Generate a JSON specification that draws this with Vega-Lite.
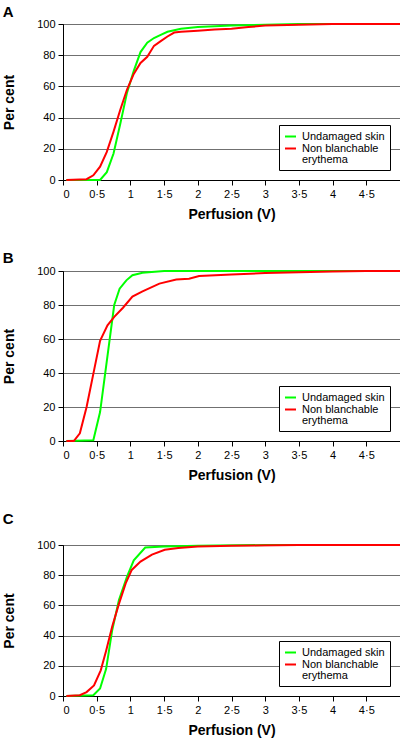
{
  "$schema": "https://vega.github.io/schema/vega-lite/v6.json",
  "padding": {"left": 2, "top": 4, "right": 0, "bottom": 0},
  "background": "white",
  "datasets": {
    "curves": [
      {"panel": "A", "series": "Undamaged skin", "x": 0.05, "y": 0},
      {"panel": "A", "series": "Undamaged skin", "x": 0.55, "y": 0},
      {"panel": "A", "series": "Undamaged skin", "x": 0.65, "y": 5},
      {"panel": "A", "series": "Undamaged skin", "x": 0.75, "y": 17},
      {"panel": "A", "series": "Undamaged skin", "x": 0.85, "y": 36},
      {"panel": "A", "series": "Undamaged skin", "x": 0.95, "y": 56},
      {"panel": "A", "series": "Undamaged skin", "x": 1.05, "y": 70},
      {"panel": "A", "series": "Undamaged skin", "x": 1.15, "y": 82},
      {"panel": "A", "series": "Undamaged skin", "x": 1.25, "y": 88},
      {"panel": "A", "series": "Undamaged skin", "x": 1.35, "y": 91},
      {"panel": "A", "series": "Undamaged skin", "x": 1.45, "y": 93},
      {"panel": "A", "series": "Undamaged skin", "x": 1.55, "y": 95},
      {"panel": "A", "series": "Undamaged skin", "x": 1.65, "y": 96},
      {"panel": "A", "series": "Undamaged skin", "x": 1.75, "y": 97},
      {"panel": "A", "series": "Undamaged skin", "x": 2.0, "y": 98},
      {"panel": "A", "series": "Undamaged skin", "x": 2.5, "y": 99},
      {"panel": "A", "series": "Undamaged skin", "x": 3.0, "y": 99.5},
      {"panel": "A", "series": "Undamaged skin", "x": 3.5, "y": 100},
      {"panel": "A", "series": "Undamaged skin", "x": 5.0, "y": 100},
      {"panel": "A", "series": "Non blanchable erythema", "x": 0.05, "y": 0},
      {"panel": "A", "series": "Non blanchable erythema", "x": 0.35, "y": 0.5},
      {"panel": "A", "series": "Non blanchable erythema", "x": 0.45, "y": 3},
      {"panel": "A", "series": "Non blanchable erythema", "x": 0.55, "y": 8.5},
      {"panel": "A", "series": "Non blanchable erythema", "x": 0.65, "y": 18},
      {"panel": "A", "series": "Non blanchable erythema", "x": 0.75, "y": 31},
      {"panel": "A", "series": "Non blanchable erythema", "x": 0.85, "y": 45},
      {"panel": "A", "series": "Non blanchable erythema", "x": 0.95, "y": 58},
      {"panel": "A", "series": "Non blanchable erythema", "x": 1.05, "y": 68},
      {"panel": "A", "series": "Non blanchable erythema", "x": 1.15, "y": 75},
      {"panel": "A", "series": "Non blanchable erythema", "x": 1.25, "y": 79},
      {"panel": "A", "series": "Non blanchable erythema", "x": 1.35, "y": 86},
      {"panel": "A", "series": "Non blanchable erythema", "x": 1.45, "y": 89},
      {"panel": "A", "series": "Non blanchable erythema", "x": 1.55, "y": 92},
      {"panel": "A", "series": "Non blanchable erythema", "x": 1.65, "y": 94.5},
      {"panel": "A", "series": "Non blanchable erythema", "x": 1.75, "y": 95},
      {"panel": "A", "series": "Non blanchable erythema", "x": 2.0, "y": 95.7},
      {"panel": "A", "series": "Non blanchable erythema", "x": 2.25, "y": 96.5},
      {"panel": "A", "series": "Non blanchable erythema", "x": 2.5, "y": 97},
      {"panel": "A", "series": "Non blanchable erythema", "x": 2.75, "y": 98},
      {"panel": "A", "series": "Non blanchable erythema", "x": 3.0, "y": 99},
      {"panel": "A", "series": "Non blanchable erythema", "x": 3.5, "y": 99.5},
      {"panel": "A", "series": "Non blanchable erythema", "x": 4.0, "y": 100},
      {"panel": "A", "series": "Non blanchable erythema", "x": 5.0, "y": 100},
      {"panel": "B", "series": "Undamaged skin", "x": 0.05, "y": 0},
      {"panel": "B", "series": "Undamaged skin", "x": 0.45, "y": 0.5},
      {"panel": "B", "series": "Undamaged skin", "x": 0.55, "y": 17},
      {"panel": "B", "series": "Undamaged skin", "x": 0.62, "y": 38},
      {"panel": "B", "series": "Undamaged skin", "x": 0.69, "y": 59},
      {"panel": "B", "series": "Undamaged skin", "x": 0.76, "y": 80},
      {"panel": "B", "series": "Undamaged skin", "x": 0.84, "y": 89.6},
      {"panel": "B", "series": "Undamaged skin", "x": 0.94, "y": 94.5},
      {"panel": "B", "series": "Undamaged skin", "x": 1.03, "y": 97.5},
      {"panel": "B", "series": "Undamaged skin", "x": 1.18, "y": 99},
      {"panel": "B", "series": "Undamaged skin", "x": 1.5, "y": 100},
      {"panel": "B", "series": "Undamaged skin", "x": 5.0, "y": 100},
      {"panel": "B", "series": "Non blanchable erythema", "x": 0.05, "y": 0},
      {"panel": "B", "series": "Non blanchable erythema", "x": 0.16, "y": 0},
      {"panel": "B", "series": "Non blanchable erythema", "x": 0.25, "y": 4.5},
      {"panel": "B", "series": "Non blanchable erythema", "x": 0.35, "y": 20},
      {"panel": "B", "series": "Non blanchable erythema", "x": 0.45, "y": 39.5},
      {"panel": "B", "series": "Non blanchable erythema", "x": 0.55, "y": 59},
      {"panel": "B", "series": "Non blanchable erythema", "x": 0.66, "y": 68},
      {"panel": "B", "series": "Non blanchable erythema", "x": 0.76, "y": 73},
      {"panel": "B", "series": "Non blanchable erythema", "x": 0.89, "y": 78.4},
      {"panel": "B", "series": "Non blanchable erythema", "x": 1.03, "y": 85},
      {"panel": "B", "series": "Non blanchable erythema", "x": 1.18, "y": 88},
      {"panel": "B", "series": "Non blanchable erythema", "x": 1.43, "y": 92.6},
      {"panel": "B", "series": "Non blanchable erythema", "x": 1.68, "y": 95},
      {"panel": "B", "series": "Non blanchable erythema", "x": 1.87, "y": 95.5},
      {"panel": "B", "series": "Non blanchable erythema", "x": 2.02, "y": 97},
      {"panel": "B", "series": "Non blanchable erythema", "x": 2.5, "y": 98},
      {"panel": "B", "series": "Non blanchable erythema", "x": 3.0, "y": 98.8},
      {"panel": "B", "series": "Non blanchable erythema", "x": 3.5, "y": 99.3},
      {"panel": "B", "series": "Non blanchable erythema", "x": 4.0, "y": 99.7},
      {"panel": "B", "series": "Non blanchable erythema", "x": 4.5, "y": 100},
      {"panel": "B", "series": "Non blanchable erythema", "x": 5.0, "y": 100},
      {"panel": "C", "series": "Undamaged skin", "x": 0.05, "y": 0},
      {"panel": "C", "series": "Undamaged skin", "x": 0.45, "y": 0.5},
      {"panel": "C", "series": "Undamaged skin", "x": 0.55, "y": 5},
      {"panel": "C", "series": "Undamaged skin", "x": 0.64, "y": 18},
      {"panel": "C", "series": "Undamaged skin", "x": 0.73, "y": 43.6},
      {"panel": "C", "series": "Undamaged skin", "x": 0.83, "y": 63.5},
      {"panel": "C", "series": "Undamaged skin", "x": 0.95, "y": 79},
      {"panel": "C", "series": "Undamaged skin", "x": 1.05, "y": 89.8},
      {"panel": "C", "series": "Undamaged skin", "x": 1.22, "y": 98.3},
      {"panel": "C", "series": "Undamaged skin", "x": 1.5, "y": 99},
      {"panel": "C", "series": "Undamaged skin", "x": 2.0, "y": 99.5},
      {"panel": "C", "series": "Undamaged skin", "x": 3.0, "y": 100},
      {"panel": "C", "series": "Undamaged skin", "x": 5.0, "y": 100},
      {"panel": "C", "series": "Non blanchable erythema", "x": 0.05, "y": 0},
      {"panel": "C", "series": "Non blanchable erythema", "x": 0.25, "y": 0.5},
      {"panel": "C", "series": "Non blanchable erythema", "x": 0.35, "y": 2.6},
      {"panel": "C", "series": "Non blanchable erythema", "x": 0.46, "y": 7},
      {"panel": "C", "series": "Non blanchable erythema", "x": 0.56, "y": 17},
      {"panel": "C", "series": "Non blanchable erythema", "x": 0.64, "y": 30},
      {"panel": "C", "series": "Non blanchable erythema", "x": 0.73, "y": 46},
      {"panel": "C", "series": "Non blanchable erythema", "x": 0.83, "y": 61},
      {"panel": "C", "series": "Non blanchable erythema", "x": 0.93, "y": 74.6},
      {"panel": "C", "series": "Non blanchable erythema", "x": 1.02, "y": 83.5},
      {"panel": "C", "series": "Non blanchable erythema", "x": 1.15, "y": 89},
      {"panel": "C", "series": "Non blanchable erythema", "x": 1.32, "y": 93.6},
      {"panel": "C", "series": "Non blanchable erythema", "x": 1.51, "y": 96.8},
      {"panel": "C", "series": "Non blanchable erythema", "x": 1.71, "y": 98},
      {"panel": "C", "series": "Non blanchable erythema", "x": 2.0, "y": 99},
      {"panel": "C", "series": "Non blanchable erythema", "x": 2.5, "y": 99.5},
      {"panel": "C", "series": "Non blanchable erythema", "x": 3.5, "y": 100},
      {"panel": "C", "series": "Non blanchable erythema", "x": 5.0, "y": 100}
    ]
  },
  "data": {"name": "curves"},
  "spacing": 28,
  "resolve": {"scale": {"color": "independent"}, "legend": {"color": "independent"}},
  "vconcat": [
    {
      "width": 337, "height": 156,
      "title": {"text": "A", "offset": -2},
      "transform": [{"filter": "datum.panel == 'A'"}],
      "mark": {"type": "line", "strokeWidth": 2},
      "encoding": {
        "x": {"field": "x", "type": "quantitative", "scale": {"domain": [0, 5], "nice": false}, "axis": {"values": [0, 0.5, 1, 1.5, 2, 2.5, 3, 3.5, 4, 4.5, 5], "labelExpr": "datum.value >= 5 ? '' : replace(toString(datum.value), '.', '·')", "grid": false, "title": "Perfusion (V)"}},
        "y": {"field": "y", "type": "quantitative", "scale": {"domain": [0, 100], "nice": false}, "axis": {"values": [0, 20, 40, 60, 80, 100], "grid": true, "title": "Per cent"}},
        "color": {"field": "series", "type": "nominal", "sort": ["Undamaged skin", "Non blanchable erythema"], "scale": {"domain": ["Undamaged skin", "Non blanchable erythema"], "range": ["#00ff00", "#ff0000"]}, "legend": {"labelExpr": "datum.label == 'Non blanchable erythema' ? ['Non blanchable', 'erythema'] : datum.label", "encode": {"labels": {"update": {"lineHeight": {"value": 11}}}}}}
      }
    },
    {
      "width": 337, "height": 170,
      "title": {"text": "B", "offset": -1},
      "transform": [{"filter": "datum.panel == 'B'"}],
      "mark": {"type": "line", "strokeWidth": 2},
      "encoding": {
        "x": {"field": "x", "type": "quantitative", "scale": {"domain": [0, 5], "nice": false}, "axis": {"values": [0, 0.5, 1, 1.5, 2, 2.5, 3, 3.5, 4, 4.5, 5], "labelExpr": "datum.value >= 5 ? '' : replace(toString(datum.value), '.', '·')", "grid": false, "title": "Perfusion (V)"}},
        "y": {"field": "y", "type": "quantitative", "scale": {"domain": [0, 100], "nice": false}, "axis": {"values": [0, 20, 40, 60, 80, 100], "grid": true, "title": "Per cent"}},
        "color": {"field": "series", "type": "nominal", "sort": ["Undamaged skin", "Non blanchable erythema"], "scale": {"domain": ["Undamaged skin", "Non blanchable erythema"], "range": ["#00ff00", "#ff0000"]}, "legend": {"labelExpr": "datum.label == 'Non blanchable erythema' ? ['Non blanchable', 'erythema'] : datum.label", "encode": {"labels": {"update": {"lineHeight": {"value": 11}}}}}}
      }
    },
    {
      "width": 337, "height": 151,
      "title": {"text": "C", "offset": 12},
      "transform": [{"filter": "datum.panel == 'C'"}],
      "mark": {"type": "line", "strokeWidth": 2},
      "encoding": {
        "x": {"field": "x", "type": "quantitative", "scale": {"domain": [0, 5], "nice": false}, "axis": {"values": [0, 0.5, 1, 1.5, 2, 2.5, 3, 3.5, 4, 4.5, 5], "labelExpr": "datum.value >= 5 ? '' : replace(toString(datum.value), '.', '·')", "grid": false, "title": "Perfusion (V)"}},
        "y": {"field": "y", "type": "quantitative", "scale": {"domain": [0, 100], "nice": false}, "axis": {"values": [0, 20, 40, 60, 80, 100], "grid": true, "title": "Per cent"}},
        "color": {"field": "series", "type": "nominal", "sort": ["Undamaged skin", "Non blanchable erythema"], "scale": {"domain": ["Undamaged skin", "Non blanchable erythema"], "range": ["#00ff00", "#ff0000"]}, "legend": {"labelExpr": "datum.label == 'Non blanchable erythema' ? ['Non blanchable', 'erythema'] : datum.label", "encode": {"labels": {"update": {"lineHeight": {"value": 11}}}}}}
      }
    }
  ],
  "config": {
    "font": "Liberation Sans",
    "view": {"stroke": "black", "strokeWidth": 1},
    "title": {"anchor": "start", "frame": "bounds", "fontSize": 15, "fontWeight": "bold", "color": "black", "font": "Liberation Sans"},
    "axis": {
      "labelFont": "Liberation Sans", "labelFontSize": 11, "labelColor": "black",
      "titleFont": "Liberation Sans", "titleFontSize": 14, "titleFontWeight": "bold", "titleColor": "black",
      "domainColor": "black", "tickColor": "black", "tickSize": 5, "labelPadding": 3,
      "gridColor": "#707070", "gridWidth": 1, "gridOpacity": 1
    },
    "axisX": {"titlePadding": 8},
    "axisY": {"titlePadding": 20},
    "legend": {
      "orient": "bottom-right", "offset": 10, "title": null,
      "strokeColor": "black", "fillColor": "white", "padding": 5,
      "symbolType": "stroke", "symbolStrokeWidth": 2, "symbolSize": 121,
      "labelFont": "Liberation Sans", "labelFontSize": 11, "labelColor": "black", "labelLimit": 200,
      "labelOffset": 5, "rowPadding": 0
    }
  }
}
